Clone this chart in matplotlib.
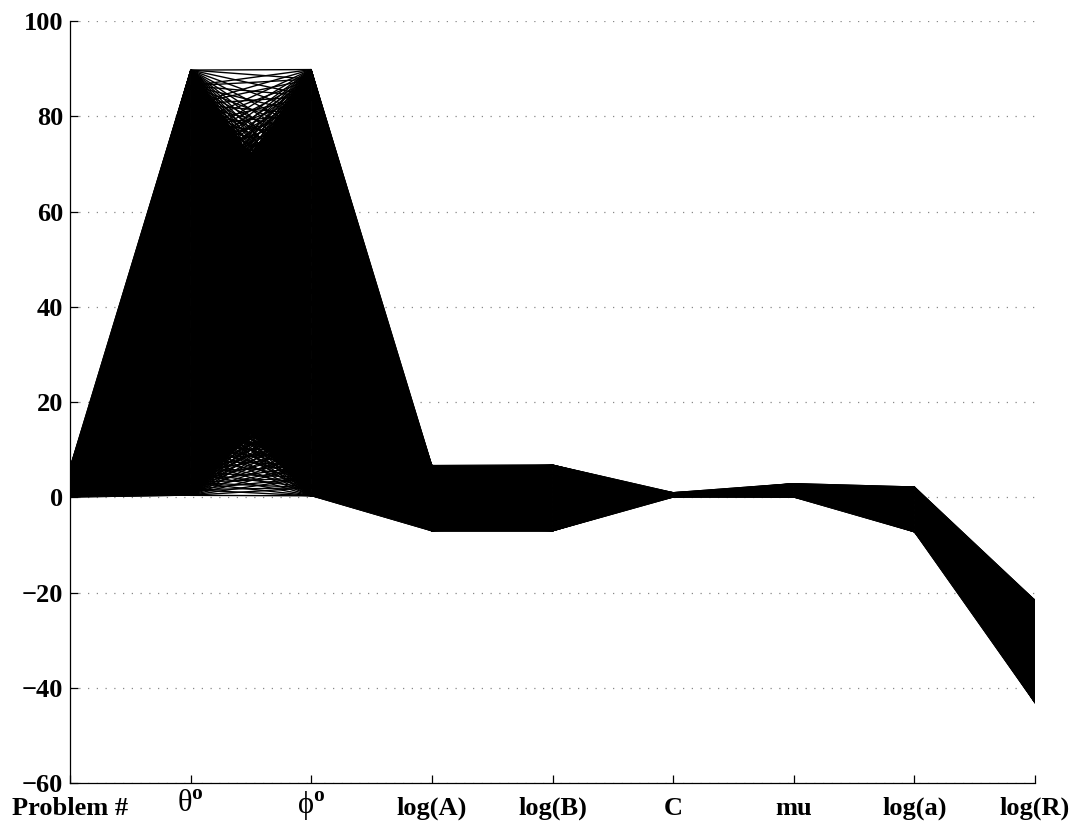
import matplotlib
matplotlib.use("Agg")
import matplotlib.pyplot as plt
from matplotlib.collections import LineCollection

plt.rcParams['font.family'] = ['Liberation Serif', 'DejaVu Serif']
plt.rcParams['mathtext.fontset'] = 'custom'
plt.rcParams['mathtext.rm'] = 'Liberation Serif'
plt.rcParams['mathtext.bf'] = 'Liberation Serif:bold'

# axis names along the bottom
axis_labels = ['Problem #', r'θ$^{\mathbf{o}}$', r'ϕ$^{\mathbf{o}}$',
               'log(A)', 'log(B)', 'C', 'mu', 'log(a)', 'log(R)']

# values seen on each coordinate axis
problem = [0.0, 0.4, 0.9, 1.5, 2.1, 2.8, 3.4, 4.1, 4.8, 5.5, 6.3]
theta = [0.4, 1.6, 3.1, 5.2, 7.9, 10.8, 13.1, 15.9, 17.6, 20.4, 22.5, 25.3,
         27.1, 30.0, 32.2, 34.9, 37.6, 39.5, 42.3, 44.1, 47.0, 49.6, 51.2, 54.1,
         56.3, 58.8, 61.7, 63.4, 66.2, 68.9, 71.3, 74.6, 78.2, 82.5, 86.4, 89.7]
phi = [0.3, 2.0, 4.1, 6.6, 9.4, 12.2, 14.7, 16.8, 19.5, 21.8, 24.2, 26.6,
       28.4, 31.3, 33.5, 36.1, 38.2, 40.8, 43.3, 45.6, 48.2, 50.1, 52.9, 55.0,
       57.4, 60.1, 62.3, 65.0, 67.6, 70.2, 73.1, 76.5, 80.4, 84.2, 87.8, 89.8]
log_A = [-7.1, -6.2, -5.1, -4.0, -3.0, -2.0, -1.0, 0.0, 1.0, 2.0, 3.0, 4.0, 5.1, 6.0, 6.7]
log_B = [-7.1, -6.1, -5.0, -4.1, -3.0, -2.1, -1.0, 0.1, 1.1, 2.0, 3.1, 4.0, 5.0, 6.1, 6.8]
c_vals = [0.0, 0.2, 0.4, 0.6, 0.8, 1.0]
mu = [0.0, 0.5, 1.0, 1.5, 2.0, 2.5, 2.9]
log_a = [-7.3, -6.3, -5.2, -4.1, -3.0, -2.0, -0.9, 0.2, 1.2, 2.2]
log_R = [-43.2, -41.0, -38.9, -36.8, -34.6, -32.5, -30.3, -28.4, -26.9, -25.4,
         -24.3, -23.2, -22.3, -21.6]

columns = [problem, theta, phi, log_A, log_B, c_vals, mu, log_a, log_R]

fig = plt.figure(figsize=(10.74, 8.23), dpi=100)
ax = fig.add_axes([70 / 1074, 40 / 823, 965 / 1074, 762 / 823])

for k in range(len(columns) - 1):
    left = columns[k]
    right = columns[k + 1]
    x0 = k + 1
    x1 = k + 2
    if k == 1:
        # between the two angles the lines cross: fill only the dense core
        mids = sorted((a + b) / 2 for a in left for b in right)
        lo = mids[int(0.06 * len(mids))]
        hi = mids[int(0.94 * len(mids))]
        xm = (x0 + x1) / 2
        ax.fill([x0, xm, x1, x1, xm, x0],
                [min(left), lo, min(right), max(right), hi, max(left)],
                fc='k', ec='k', lw=0.6, zorder=2)
        lw = 1.0
    else:
        ax.fill([x0, x1, x1, x0],
                [min(left), min(right), max(right), max(left)],
                fc='k', ec='k', lw=0.6, zorder=2)
        lw = 0.6
    segs = [[(x0, a), (x1, b)] for a in left for b in right]
    ax.add_collection(LineCollection(segs, colors='k', linewidths=lw, zorder=3))

ax.set_xlim(1, 9)
ax.set_ylim(-60, 100)
ax.set_yticks(range(-60, 101, 20))
ax.set_xticks(range(1, 10))
# the two angle labels are placed by hand below, closer to the axis
ax.set_xticklabels(['' if i in (1, 2) else s for i, s in enumerate(axis_labels)])
ax.yaxis.grid(True, linestyle=(0, (1, 6)), color='#888888', linewidth=0.9, zorder=1)
ax.set_axisbelow(True)

for i in (1, 2):
    ax.annotate(axis_labels[i], xy=(i + 1, 0), xycoords=('data', 'axes fraction'),
                xytext=(0, -5), textcoords='offset points',
                ha='center', va='top', fontsize=22)

for side in ['top', 'right']:
    ax.spines[side].set_visible(False)
for side in ['left', 'bottom']:
    ax.spines[side].set_linewidth(0.9)

ax.tick_params(direction='in', length=6, width=0.9)
ax.tick_params(axis='x', pad=10)
ax.tick_params(axis='y', pad=5)
for lab in ax.get_yticklabels():
    lab.set_fontsize(19)
    lab.set_fontweight('bold')
for lab in ax.get_xticklabels():
    lab.set_fontsize(19)
    lab.set_fontweight('bold')

fig.savefig('out.png', dpi=100)
